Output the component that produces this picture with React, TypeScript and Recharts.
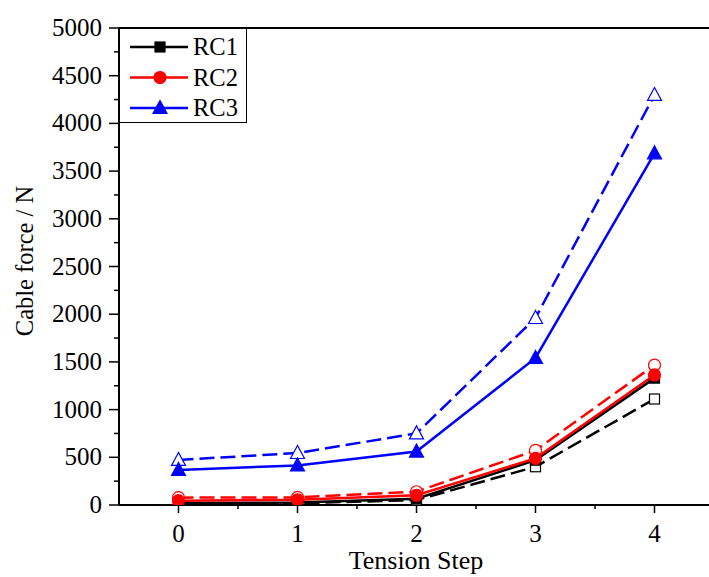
import React from "react";
import { LineChart, Line, XAxis, YAxis, ReferenceLine } from "recharts";

const steps = [0, 1, 2, 3, 4];
// solid = measured, dashed = computed
const rc1Solid = [20, 25, 65, 470, 1330];
const rc1Dashed = [12, 18, 52, 401, 1111];
const rc2Solid = [45, 55, 102, 489, 1363];
const rc2Dashed = [77, 80, 139, 572, 1467];
const rc3Solid = [367, 415, 560, 1541, 3686];
const rc3Dashed = [472, 545, 751, 1960, 4298];

const xTicks = [-0.5, 0, 0.5, 1, 1.5, 2, 2.5, 3, 3.5, 4, 4.5];
const yTicks = Array.from({ length: 21 }, (_, i) => i * 250);

const data = steps.map((s, i) => ({
  step: s,
  rc1s: rc1Solid[i],
  rc1d: rc1Dashed[i],
  rc2s: rc2Solid[i],
  rc2d: rc2Dashed[i],
  rc3s: rc3Solid[i],
  rc3d: rc3Dashed[i],
}));

const FONT = "'Liberation Serif', 'Times New Roman', serif";
const BLUE = "#0000ff";
const RED = "#ff0000";

type Shape = "square" | "circle" | "triangle";

function marker(shape: Shape, color: string, filled: boolean, cx: number, cy: number, key?: string) {
  const fill = filled ? color : "#ffffff";
  if (shape === "square") {
    return <rect key={key} x={cx - 5} y={cy - 5} width={10} height={10} fill={fill} stroke={color} strokeWidth={1.2} />;
  }
  if (shape === "circle") {
    return <circle key={key} cx={cx} cy={cy} r={6} fill={fill} stroke={color} strokeWidth={1.2} />;
  }
  return (
    <polygon
      key={key}
      points={`${cx},${cy - 7.5} ${cx - 7},${cy + 5.5} ${cx + 7},${cy + 5.5}`}
      fill={fill}
      stroke={color}
      strokeWidth={1.2}
    />
  );
}

function dotFor(shape: Shape, color: string, filled: boolean) {
  return (p: any) => marker(shape, color, filled, p.cx, p.cy, `${shape}-${filled}-${p.index}`);
}

function XTick(props: any) {
  const { x, y, payload } = props;
  const v = payload.value;
  if (v < 0 || v > 4) return <g />;
  const major = Number.isInteger(v);
  return (
    <g>
      <line x1={x} x2={x} y1={y} y2={y + (major ? 8 : 4)} stroke="#000" strokeWidth={1.5} />
      {major && (
        <text x={x} y={y + 37} textAnchor="middle" fontFamily={FONT} fontSize={25} fill="#000">
          {v}
        </text>
      )}
    </g>
  );
}

function YTick(props: any) {
  const { x, y, payload } = props;
  const v = payload.value;
  const major = v % 500 === 0;
  return (
    <g>
      <line x1={x - (major ? 10 : 5)} x2={x} y1={y} y2={y} stroke="#000" strokeWidth={1.5} />
      {major && (
        <text x={x - 17} y={y + 8} textAnchor="end" fontFamily={FONT} fontSize={25} fill="#000">
          {v}
        </text>
      )}
    </g>
  );
}

const legendItems = [
  { label: "RC1", color: "#000000", shape: "square" as Shape },
  { label: "RC2", color: RED, shape: "circle" as Shape },
  { label: "RC3", color: BLUE, shape: "triangle" as Shape },
];

function LegendBox() {
  return (
    <svg width={128} height={95} style={{ display: "block" }}>
      <rect x={0.5} y={0.5} width={127} height={94} fill="#fff" stroke="#000" strokeWidth={1} />
      {legendItems.map((it, i) => {
        const cy = 19 + i * 30.5;
        return (
          <g key={it.label}>
            <line x1={11} x2={69} y1={cy} y2={cy} stroke={it.color} strokeWidth={2.5} />
            {marker(it.shape, it.color, true, 41, cy)}
            <text x={74} y={cy + 8} fontFamily={FONT} fontSize={24.5} fill="#000">
              {it.label}
            </text>
          </g>
        );
      })}
    </svg>
  );
}

export default function App() {
  return (
    <div style={{ position: "absolute", left: 0, top: 0, width: 709, height: 577, overflow: "hidden", background: "#fff" }}>
      <LineChart width={714} height={577} data={data} margin={{ top: 28, right: 0, bottom: 0, left: 0 }}>
        <XAxis
          dataKey="step"
          type="number"
          domain={[-0.5, 4.5]}
          ticks={xTicks}
          interval={0}
          height={72}
          tickSize={0}
          tickMargin={0}
          tickLine={false}
          axisLine={{ stroke: "#000", strokeWidth: 2 }}
          tick={<XTick />}
          allowDataOverflow
        />
        <YAxis
          type="number"
          domain={[0, 5000]}
          ticks={yTicks}
          interval={0}
          width={119}
          tickSize={0}
          tickMargin={0}
          tickLine={false}
          axisLine={{ stroke: "#000", strokeWidth: 2 }}
          tick={<YTick />}
          allowDataOverflow
        />
        <ReferenceLine y={5000} stroke="#000" strokeWidth={2} ifOverflow="visible" />
        <Line dataKey="rc1d" stroke="#000" strokeWidth={2.5} strokeDasharray="15 6" dot={dotFor("square", "#000", false)} isAnimationActive={false} />
        <Line dataKey="rc1s" stroke="#000" strokeWidth={2.5} dot={dotFor("square", "#000", true)} isAnimationActive={false} />
        <Line dataKey="rc2d" stroke={RED} strokeWidth={2.5} strokeDasharray="15 6" dot={dotFor("circle", RED, false)} isAnimationActive={false} />
        <Line dataKey="rc2s" stroke={RED} strokeWidth={2.5} dot={dotFor("circle", RED, true)} isAnimationActive={false} />
        <Line dataKey="rc3d" stroke={BLUE} strokeWidth={2.5} strokeDasharray="15 6" dot={dotFor("triangle", BLUE, false)} isAnimationActive={false} />
        <Line dataKey="rc3s" stroke={BLUE} strokeWidth={2.5} dot={dotFor("triangle", BLUE, true)} isAnimationActive={false} />
        <text x={0} y={0} transform="translate(33,261) rotate(-90)" textAnchor="middle" fontFamily={FONT} fontSize={24.5} fill="#000">
          Cable force / N
        </text>
        <text x={416} y={569} textAnchor="middle" fontFamily={FONT} fontSize={26} fill="#000">
          Tension Step
        </text>
      </LineChart>
      <div style={{ position: "absolute", left: 119, top: 28 }}>
        <LegendBox />
      </div>
    </div>
  );
}
